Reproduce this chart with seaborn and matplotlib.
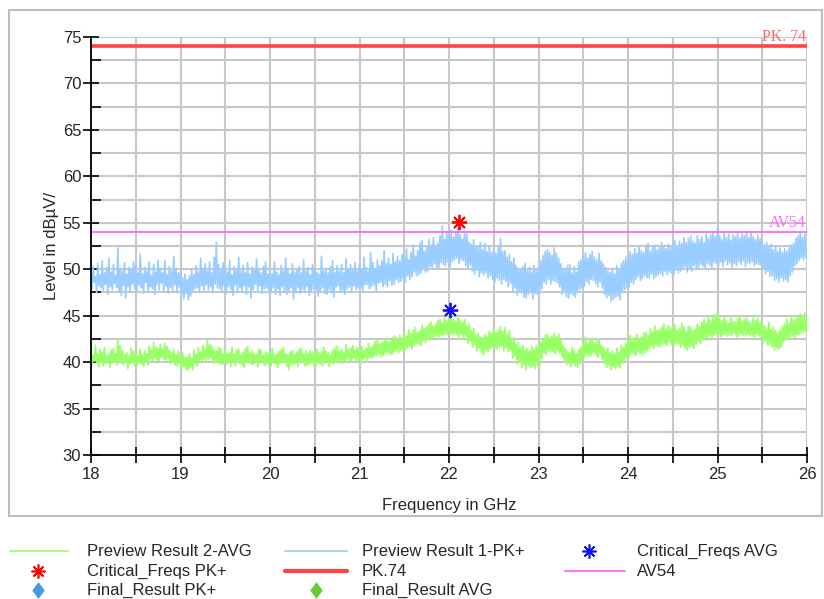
import numpy as np
import pandas as pd
import matplotlib
matplotlib.use("Agg")
import matplotlib.pyplot as plt
from matplotlib.lines import Line2D
from matplotlib.patches import Rectangle
from matplotlib.path import Path
from matplotlib.ticker import MultipleLocator, FixedLocator
import seaborn as sns

# Sweep limits (GHz); traces sampled every 12.5 MHz
f_start, f_stop = 18.0, 26.0

# Preview Result 1-PK+ (dBuV), one row per 0.5 GHz
pk_trace = [
    49.8, 47.9, 50.3, 48.6, 49.2, 47.5, 50.6, 48.2, 49.4, 48.0, 50.9, 47.7, 49.6, 48.4, 50.2, 47.3, 51.2, 48.1, 49.7, 47.8, 50.5, 48.5, 49.3, 48.0, 52.3, 47.6, 50.1, 47.2, 49.8, 48.3, 50.7, 46.9, 49.5, 48.1, 50.2, 47.6, 49.9, 48.4, 50.8, 47.9,
    50.4, 47.7, 49.6, 48.3, 51.6, 48.0, 49.5, 47.4, 50.2, 48.6, 49.8, 47.5, 50.8, 48.1, 49.3, 47.9, 50.5, 47.3, 49.7, 48.4, 51.0, 47.8, 50.1, 48.5, 49.6, 47.6, 50.9, 48.2, 49.4, 47.4, 50.3, 48.0, 49.8, 47.7, 51.4, 48.3, 50.0, 47.5, 49.6, 48.1,
    49.7, 47.2, 49.1, 46.8, 49.5, 47.4, 48.9, 46.7, 49.3, 47.1, 50.0, 47.6, 49.4, 47.9, 50.4, 48.0, 49.7, 47.5, 51.2, 48.2, 50.1, 47.7, 50.6, 48.3, 49.8, 47.8, 50.8, 48.1, 49.6, 47.5, 51.3, 48.4, 52.9, 48.0, 50.5, 47.9, 49.9, 47.6, 50.7, 48.2,
    50.2, 47.4, 49.7, 48.1, 50.9, 47.8, 49.4, 47.2, 50.3, 48.3, 49.9, 47.6, 51.3, 48.0, 49.8, 47.5, 50.4, 48.2, 49.6, 47.3, 50.7, 48.1, 49.5, 46.9, 50.2, 47.8, 49.9, 48.4, 51.1, 47.7, 50.0, 48.2, 49.6, 47.4, 50.3, 47.9, 50.8, 48.0, 49.5, 47.6,
    50.0, 47.5, 49.5, 48.0, 50.8, 47.3, 49.7, 47.9, 49.4, 47.2, 50.4, 48.1, 49.8, 47.6, 51.2, 47.3, 49.9, 47.7, 49.5, 48.0, 50.6, 46.8, 49.7, 47.5, 49.9, 48.0, 50.3, 47.4, 49.6, 47.8, 51.0, 47.6, 49.8, 48.1, 50.2, 47.2, 49.4, 47.7, 50.5, 47.9,
    50.2, 47.8, 49.7, 47.1, 49.5, 47.6, 51.4, 48.0, 49.8, 47.4, 50.1, 47.3, 49.6, 47.8, 50.3, 47.5, 50.9, 47.0, 49.7, 48.1, 50.4, 48.2, 49.8, 47.5, 50.5, 47.7, 49.6, 47.3, 51.1, 47.9, 50.0, 48.1, 50.5, 47.6, 49.9, 48.2, 50.7, 47.8, 49.8, 48.0,
    50.6, 48.0, 49.9, 47.7, 51.3, 48.3, 50.2, 48.4, 49.8, 47.9, 51.8, 48.2, 50.7, 48.3, 50.1, 47.6, 51.0, 48.5, 50.4, 48.6, 50.9, 48.1, 52.0, 48.4, 50.6, 48.1, 51.2, 48.8, 50.5, 48.3, 51.7, 48.4, 50.8, 48.9, 51.4, 48.6, 50.9, 48.7, 51.6, 49.0,
    51.5, 48.6, 52.2, 49.3, 51.0, 48.9, 51.8, 49.2, 52.6, 49.7, 51.4, 49.3, 52.0, 49.4, 52.9, 49.6, 53.1, 50.0, 51.9, 49.7, 52.4, 49.8, 53.2, 50.3, 52.6, 50.1, 53.4, 50.6, 52.5, 50.0, 52.8, 50.2, 53.6, 50.7, 54.7, 50.5, 53.2, 50.4, 54.0, 50.8,
    53.6, 50.3, 54.2, 50.8, 53.4, 51.0, 53.9, 51.2, 54.5, 50.6, 53.7, 51.0, 53.3, 50.9, 54.1, 50.4, 53.8, 50.1, 52.9, 50.5, 52.7, 49.8, 53.2, 49.5, 52.5, 49.9, 52.4, 49.2, 52.9, 49.6, 52.1, 49.4, 52.8, 49.6, 51.9, 49.1, 52.5, 49.3, 51.8, 48.9,
    52.1, 48.6, 51.7, 49.0, 52.4, 48.8, 53.3, 48.4, 51.9, 48.9, 52.0, 48.7, 51.3, 48.1, 51.6, 48.5, 50.8, 47.6, 51.2, 48.0, 50.4, 47.2, 50.1, 47.7, 49.9, 47.5, 50.3, 47.0, 50.6, 46.9, 49.8, 47.3, 50.2, 47.6, 49.7, 46.8, 50.4, 47.4, 49.9, 47.3,
    50.2, 47.4, 50.9, 47.9, 51.5, 48.6, 51.9, 48.4, 52.1, 48.9, 51.8, 48.4, 51.5, 48.8, 52.3, 48.7, 51.7, 48.5, 51.2, 48.1, 50.6, 47.3, 50.1, 47.6, 49.9, 47.0, 50.4, 46.9, 50.5, 47.4, 49.6, 47.2, 50.3, 47.0, 49.7, 47.6, 50.8, 47.8, 51.0, 48.0,
    51.4, 48.2, 51.8, 48.7, 51.2, 48.4, 51.6, 48.9, 51.9, 48.8, 51.3, 48.5, 51.0, 48.1, 51.7, 48.6, 50.9, 48.0, 50.6, 47.3, 50.2, 46.9, 49.8, 47.2, 49.7, 46.6, 50.1, 46.8, 49.5, 47.0, 50.4, 47.1, 49.9, 46.7, 50.6, 47.5, 50.9, 47.8, 51.3, 48.0,
    51.4, 48.1, 51.9, 48.6, 51.6, 48.4, 52.2, 48.9, 51.7, 49.2, 52.5, 48.8, 52.0, 49.0, 51.8, 49.3, 52.6, 49.1, 52.8, 49.1, 51.9, 49.5, 52.4, 49.0, 52.6, 49.2, 52.1, 49.4, 52.3, 49.6, 52.9, 49.3, 52.5, 49.8, 52.2, 49.4, 52.7, 49.7, 52.4, 49.6,
    52.7, 49.4, 53.1, 49.9, 52.4, 49.6, 53.0, 49.8, 52.8, 50.0, 53.4, 50.3, 52.9, 49.7, 53.3, 50.1, 53.6, 49.8, 53.0, 50.4, 52.8, 50.2, 53.6, 50.0, 53.2, 50.5, 53.5, 50.3, 52.9, 50.1, 53.8, 50.6, 53.3, 50.4, 53.7, 50.2, 54.0, 50.7, 53.5, 50.6,
    54.4, 50.4, 53.6, 50.8, 53.2, 50.3, 53.9, 50.9, 53.4, 50.5, 53.8, 50.7, 53.1, 50.2, 53.7, 50.6, 53.5, 50.4, 53.9, 50.8, 53.3, 50.5, 53.8, 50.9, 53.6, 50.3, 54.1, 50.7, 53.4, 50.6, 53.9, 50.8, 53.5, 50.4, 53.2, 50.6, 53.7, 50.5, 53.3, 50.4,
    53.0, 50.1, 52.6, 49.5, 52.9, 49.8, 52.4, 49.2, 52.7, 49.3, 52.1, 48.8, 52.5, 49.0, 51.9, 48.6, 52.3, 49.1, 51.8, 48.7, 52.2, 48.9, 51.9, 48.6, 52.3, 49.3, 52.6, 49.7, 52.8, 50.4, 53.3, 50.6, 53.6, 50.9, 53.9, 51.2, 53.4, 51.0, 53.8, 51.3,
    52.8,
]

# Preview Result 2-AVG (dBuV), one row per 0.5 GHz
avg_trace = [
    41.2, 39.7, 40.8, 40.1, 41.8, 39.9, 40.9, 39.5, 41.4, 40.0, 41.1, 39.6, 41.6, 39.8, 40.7, 40.2, 40.8, 39.4, 41.3, 39.9, 41.5, 40.0, 40.9, 39.7, 42.5, 40.2, 41.8, 39.9, 41.3, 39.7, 40.8, 40.0, 41.0, 39.3, 40.7, 39.8, 41.5, 40.1, 41.2, 39.6,
    41.1, 39.6, 40.7, 39.9, 41.4, 39.8, 40.8, 39.5, 41.2, 40.0, 40.9, 39.7, 41.7, 40.3, 41.3, 40.1, 42.1, 40.4, 41.6, 40.2, 41.5, 40.1, 41.9, 40.5, 41.4, 40.3, 42.0, 40.2, 41.7, 40.4, 41.3, 39.8, 41.0, 40.0, 41.4, 39.7, 40.8, 39.6, 41.2, 39.9,
    40.7, 39.3, 41.0, 39.5, 40.5, 39.2, 40.6, 39.1, 40.9, 39.4, 40.4, 39.2, 41.3, 39.8, 40.9, 39.6, 41.6, 40.2, 41.1, 40.0, 41.8, 40.3, 41.4, 40.1, 42.3, 40.3, 41.9, 40.4, 41.8, 39.9, 41.3, 40.0, 41.2, 40.0, 41.6, 39.8, 41.5, 39.7, 40.9, 39.8,
    41.3, 39.8, 40.9, 40.1, 41.0, 39.5, 41.6, 40.0, 40.9, 39.6, 41.3, 40.2, 41.4, 39.9, 40.8, 39.7, 41.1, 39.4, 41.5, 40.0, 41.7, 40.1, 41.0, 39.8, 41.2, 39.7, 40.9, 40.0, 40.8, 39.5, 41.4, 39.9, 41.3, 40.1, 40.7, 39.6, 41.1, 39.8, 41.0, 39.7,
    41.0, 39.6, 41.5, 40.0, 40.8, 39.8, 40.9, 39.4, 41.2, 39.8, 41.4, 40.0, 41.6, 40.1, 40.9, 39.5, 40.8, 39.2, 41.1, 39.7, 41.3, 39.7, 40.8, 39.9, 41.1, 39.5, 41.4, 40.1, 41.5, 40.0, 40.9, 39.6, 41.2, 39.6, 41.0, 39.8, 41.3, 39.9, 41.1, 39.7,
    40.9, 39.5, 41.4, 39.9, 41.0, 39.8, 41.1, 39.6, 41.6, 40.2, 41.2, 40.0, 41.0, 39.5, 40.8, 39.9, 41.3, 39.8, 41.5, 40.0, 41.7, 40.1, 41.2, 39.9, 41.4, 39.9, 41.0, 40.1, 41.9, 40.3, 41.4, 40.2, 41.5, 40.0, 41.8, 40.4, 41.3, 40.1, 41.6, 40.2,
    41.3, 39.8, 41.7, 40.3, 41.2, 40.4, 41.5, 40.1, 42.0, 40.5, 41.6, 40.4, 41.8, 40.6, 42.2, 40.7, 42.4, 40.9, 41.9, 40.6, 42.1, 40.7, 42.5, 40.9, 42.6, 41.0, 42.2, 40.8, 42.3, 40.8, 42.7, 41.1, 42.8, 41.2, 42.4, 41.0, 42.9, 41.3, 42.6, 41.1,
    43.2, 41.3, 42.8, 41.5, 43.5, 41.6, 43.1, 41.4, 43.4, 41.8, 43.7, 42.0, 43.2, 41.9, 43.4, 41.8, 44.0, 42.3, 43.6, 42.1, 43.8, 42.5, 44.1, 42.4, 44.3, 42.6, 43.9, 42.7, 44.1, 42.8, 44.5, 42.7, 44.6, 42.9, 44.2, 42.8, 44.8, 43.0, 44.5, 42.9,
    44.8, 43.0, 45.0, 42.8, 44.6, 43.1, 44.4, 42.9, 44.9, 42.7, 44.5, 43.0, 44.3, 42.5, 44.6, 42.8, 43.9, 42.0, 44.1, 42.3, 43.4, 41.6, 43.6, 41.9, 42.9, 41.2, 43.1, 41.5, 42.7, 41.0, 42.6, 40.8, 43.0, 41.2, 42.8, 41.1, 43.3, 41.4, 43.1, 41.6,
    43.6, 41.5, 43.2, 41.4, 43.5, 41.6, 43.8, 41.7, 43.3, 41.2, 43.7, 41.5, 43.0, 41.1, 43.4, 41.3, 42.4, 40.4, 42.6, 40.7, 41.9, 39.8, 42.1, 40.2, 41.6, 39.4, 41.8, 39.7, 41.3, 39.2, 41.5, 39.6, 41.2, 39.4, 41.7, 39.5, 41.4, 39.3, 41.8, 39.7,
    41.7, 39.6, 42.2, 40.4, 42.5, 41.0, 42.9, 40.8, 43.0, 41.2, 42.6, 41.1, 42.8, 41.1, 43.1, 40.9, 42.7, 41.3, 43.0, 41.0, 42.4, 40.6, 41.8, 40.2, 41.5, 39.7, 41.2, 39.9, 41.0, 39.5, 41.6, 39.8, 41.3, 39.6, 40.9, 39.4, 41.4, 39.8, 41.6, 40.1,
    42.2, 40.6, 42.7, 40.9, 42.0, 40.6, 42.4, 40.7, 42.6, 41.0, 42.1, 40.8, 42.3, 40.5, 42.5, 40.9, 41.8, 40.3, 41.6, 39.8, 41.3, 39.4, 41.5, 39.7, 41.0, 39.2, 41.2, 39.5, 40.9, 39.3, 41.5, 39.6, 41.1, 39.4, 41.8, 39.9, 41.6, 40.2, 42.0, 40.4,
    42.5, 40.6, 42.9, 40.9, 42.4, 40.8, 42.6, 40.7, 43.0, 41.1, 42.5, 40.9, 42.7, 40.8, 43.1, 41.0, 43.2, 41.2, 42.9, 41.4, 43.6, 41.7, 43.3, 41.5, 43.9, 41.8, 43.4, 41.7, 43.5, 41.6, 43.8, 41.9, 44.1, 42.0, 43.6, 41.8, 43.9, 42.1, 43.7, 41.9,
    43.7, 41.8, 44.0, 42.0, 43.5, 41.9, 43.6, 41.6, 44.2, 41.8, 43.8, 41.4, 43.3, 41.3, 43.9, 41.6, 43.8, 41.7, 43.4, 41.5, 43.5, 41.9, 44.1, 42.2, 43.8, 42.0, 44.3, 42.4, 44.6, 42.6, 44.2, 42.5, 45.0, 42.8, 44.5, 42.7, 44.8, 42.9, 45.1, 43.0,
    45.3, 42.9, 44.7, 42.7, 44.5, 43.0, 44.9, 43.0, 44.5, 42.8, 44.2, 42.9, 44.8, 42.9, 44.4, 43.1, 44.3, 42.7, 44.7, 42.8, 44.9, 43.1, 44.4, 42.9, 44.6, 42.8, 44.8, 43.0, 44.4, 42.9, 44.2, 42.8, 44.8, 42.6, 44.5, 43.0, 44.7, 42.8, 44.3, 42.7,
    44.2, 42.1, 43.9, 42.3, 43.6, 41.8, 44.3, 41.9, 43.5, 41.6, 43.8, 41.3, 43.4, 41.5, 43.2, 41.4, 43.5, 41.6, 43.9, 42.2, 44.1, 42.4, 44.6, 42.5, 44.2, 42.7, 45.0, 42.8, 44.6, 42.6, 44.7, 42.9, 44.9, 43.0, 45.2, 43.1, 44.8, 43.2, 45.3, 43.3,
    44.6,
]

# Critical frequencies (GHz, dBuV)
crit_pk_freq, crit_pk_level = [22.11], [55.1]
crit_avg_freq, crit_avg_level = [22.01], [45.6]

# Limit lines (dBuV)
limit_pk = 74
limit_av = 54

x_ticks = [18, 19, 20, 21, 22, 23, 24, 25, 26]
y_ticks = [30, 35, 40, 45, 50, 55, 60, 65, 70, 75]

C_AVG = "#99ff66"
C_PK = "#99ccff"
C_PKLIM = "#ff4444"
C_AVLIM = "#ff66ff"
C_GRID = "#c8c8c8"

sns.set_style("white")
plt.rcParams["font.family"] = ["Liberation Sans", "DejaVu Sans"]

df_pk = pd.DataFrame({"freq": np.linspace(f_start, f_stop, len(pk_trace)), "level": pk_trace})
df_avg = pd.DataFrame({"freq": np.linspace(f_start, f_stop, len(avg_trace)), "level": avg_trace})

fig = plt.figure(figsize=(8.24, 5.99), dpi=100)
ax = fig.add_axes([91 / 824, 1 - 455 / 599, (807 - 91) / 824, (455 - 37) / 599])

# outer frame
fig.add_artist(Rectangle((9 / 824, 1 - 516 / 599), (822 - 9) / 824, (516 - 10) / 599,
                         transform=fig.transFigure, fill=False, edgecolor="#bdbdbd", lw=1.5))

# grid
ax.xaxis.set_minor_locator(MultipleLocator(0.5))
ax.yaxis.set_minor_locator(MultipleLocator(2.5))
ax.grid(which="both", color=C_GRID, lw=1.5)
ax.set_axisbelow(True)

sns.lineplot(data=df_pk, x="freq", y="level", ax=ax, color=C_PK, lw=1.2, zorder=3)
sns.lineplot(data=df_avg, x="freq", y="level", ax=ax, color=C_AVG, lw=1.2, zorder=3)

ax.axhline(limit_pk, color=C_PKLIM, lw=2.6, zorder=4)
ax.axhline(limit_av, color=C_AVLIM, lw=1.3, zorder=4)
serif = ["Liberation Serif", "DejaVu Serif"]
ax.text(25.99, limit_pk + 0.1, "PK. 74", color="#ff6666", ha="right", va="bottom",
        fontsize=11.5, family=serif, zorder=5)
ax.text(25.99, limit_av + 0.1, "AV54", color=C_AVLIM, ha="right", va="bottom",
        fontsize=11.5, family=serif, zorder=5)

star = (8, 2, 0)
ax.plot(crit_pk_freq, crit_pk_level, ls="none", marker=star, ms=11, mew=1.3, color="red", zorder=6)
ax.plot(crit_avg_freq, crit_avg_level, ls="none", marker=star, ms=11, mew=1.3, color="#1010ee", zorder=6)

ax.set_xlim(f_start, f_stop)
ax.set_ylim(30, 75)
ax.xaxis.set_major_locator(FixedLocator(x_ticks))
ax.yaxis.set_major_locator(FixedLocator(y_ticks))
ax.tick_params(axis="x", which="both", bottom=True, direction="inout", length=11, width=1.2,
               color="black", labelsize=12, pad=3)
ax.tick_params(axis="y", which="major", left=True, direction="inout", length=12, width=1.2,
               color="black", labelsize=12, pad=1)
ax.tick_params(axis="y", which="minor", left=True, direction="in", length=7, width=1.2, color="black")

for s in ["top", "right"]:
    ax.spines[s].set_visible(False)
for s in ["left", "bottom"]:
    ax.spines[s].set_color("black")
    ax.spines[s].set_linewidth(1.3)
    ax.spines[s].set_zorder(7)

ax.set_xlabel("Frequency in GHz", fontsize=12, labelpad=12)
ax.set_ylabel("Level in dBµV/", fontsize=12, labelpad=3)

# legend, three columns below the frame
diamond = Path([(0, 1), (0.75, 0), (0, -1), (-0.75, 0), (0, 1)])
rows_y = [1 - 551 / 599, 1 - 571 / 599, 1 - 590 / 599]
text_x = [87 / 824, 362 / 824, 637 / 824]
entries = [
    (0, 0, "Preview Result 2-AVG", dict(kind="line", color=C_AVG, lw=1.2, x0=10, x1=68)),
    (1, 0, "Preview Result 1-PK+", dict(kind="line", color=C_PK, lw=1.2, x0=285, x1=347)),
    (2, 0, "Critical_Freqs AVG", dict(kind="mark", color="#1010ee", marker=star, ms=10, xc=589)),
    (0, 1, "Critical_Freqs PK+", dict(kind="mark", color="red", marker=star, ms=10, xc=38)),
    (1, 1, "PK.74", dict(kind="line", color=C_PKLIM, lw=3.0, x0=285, x1=347)),
    (2, 1, "AV54", dict(kind="line", color=C_AVLIM, lw=1.3, x0=565, x1=625)),
    (0, 2, "Final_Result PK+", dict(kind="mark", color="#4499dd", marker=diamond, ms=12, xc=38)),
    (1, 2, "Final_Result AVG", dict(kind="mark", color="#66cc33", marker=diamond, ms=12, xc=316)),
]
for col, row, label, h in entries:
    y = rows_y[row]
    if h["kind"] == "line":
        fig.add_artist(Line2D([h["x0"] / 824, h["x1"] / 824], [y, y], transform=fig.transFigure,
                              color=h["color"], lw=h["lw"]))
    else:
        mew = 1.2 if h["marker"] is star else 0
        fig.add_artist(Line2D([h["xc"] / 824], [y], transform=fig.transFigure, ls="none",
                              marker=h["marker"], markersize=h["ms"], mew=mew, color=h["color"]))
    fig.text(text_x[col], y, label, fontsize=12, va="center", ha="left")

fig.savefig("out.png", dpi=100)
